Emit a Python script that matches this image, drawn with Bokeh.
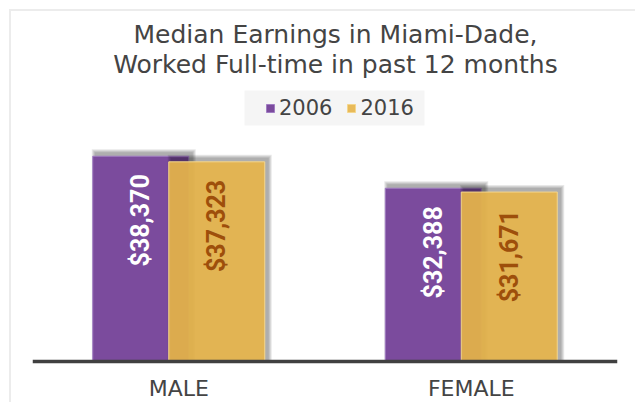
import math
from bokeh.plotting import figure
from bokeh.models import (ColumnDataSource, FactorRange, Range1d, Label, Span,
                          Legend, LegendItem, BoxAnnotation, InlineStyleSheet)
from bokeh.transform import dodge
from bokeh.core.properties import value
from bokeh.embed import file_html
from bokeh.resources import INLINE

# ---------------- data ----------------
categories = ["MALE", "FEMALE"]
years = ["2006", "2016"]
earnings_2006 = [38370, 32388]
earnings_2016 = [37323, 31671]
title_lines = ["Median Earnings in Miami-Dade,", "Worked Full-time in past 12 months"]

# ---------------- layout (page pixels) ----------------
ORIGIN = 11            # canvas top-left on page (9px margin + 2px border)
W, H = 626, 393
FRAME_L, FRAME_R = 32, 617
FRAME_B = ORIGIN + H
ZERO_Y = 361           # page y of value 0
PX_PER_USD = 0.00535
UNIT = (FRAME_R - FRAME_L) / len(categories)
BAR_W = 96 / UNIT
OFF = 38 / UNIT

def xd(px):
    return (px - FRAME_L) / UNIT

def yd(py):
    return (ZERO_Y - py) / PX_PER_USD

TXT = "#444444"
PURPLE = "#7B4B9D"
PURPLE_EDGE = "#A07CC2"
YELLOW = "#E6B54C"
YELLOW_EDGE = "#F4D68C"
FONT = "DejaVu Sans"

def money(v):
    return "${:,}".format(v)

src = ColumnDataSource(dict(
    cat=categories,
    v2006=earnings_2006,
    v2016=earnings_2016,
    l2006=[money(v) for v in earnings_2006],
    l2016=[money(v) for v in earnings_2016],
))

p = figure(width=W, height=H,
           x_range=FactorRange(factors=categories, range_padding=0),
           y_range=Range1d(yd(FRAME_B), yd(ORIGIN)),
           output_backend="svg", toolbar_location=None,
           x_axis_location=None, y_axis_location=None,
           min_border_left=FRAME_L - ORIGIN, min_border_right=ORIGIN + W - FRAME_R,
           min_border_top=0, min_border_bottom=0)
p.title.visible = False
p.grid.visible = False
p.outline_line_color = None
p.background_fill_color = "white"
p.border_fill_color = "white"
p.stylesheets = [InlineStyleSheet(css=(
    ":host { margin-left: 9px; margin-top: 9px; "
    "border-left: 2px solid #ececec; border-top: 2px solid #ececec; }"))]

# ---------------- shadows + bars ----------------
SH_DX, SH_DY = 3, 3
renderers = {}
for key, off, fill, edge, alpha in [("v2006", -OFF, PURPLE, PURPLE_EDGE, 1.0),
                                    ("v2016", OFF, YELLOW, YELLOW_EDGE, 0.93)]:
    for e in [1, 2, 3, 4]:
        sh = ColumnDataSource(dict(cat=categories,
                                   top=[v + (SH_DY + e) / PX_PER_USD for v in src.data[key]]))
        p.vbar(x=dodge("cat", off + SH_DX / UNIT, range=p.x_range), top="top", bottom=0,
               width=BAR_W + 2 * e / UNIT, source=sh,
               fill_color="black", fill_alpha=0.09, line_color=None)
    renderers[key] = p.vbar(x=dodge("cat", off, range=p.x_range), top=key, bottom=0,
                            width=BAR_W, source=src, fill_color=fill, fill_alpha=alpha,
                            line_color=edge, line_width=1)

# bar value labels (rotated, inside end)
p.text(x=dodge("cat", -OFF, range=p.x_range), y="v2006", text="l2006", source=src,
       angle=math.pi / 2, text_align="right", text_baseline="middle", y_offset=18,
       text_font=value("Roboto"), text_font_style="bold", text_font_size="25px",
       text_color="white")
p.text(x=dodge("cat", OFF, range=p.x_range), y="v2016", text="l2016", source=src,
       angle=math.pi / 2, text_align="right", text_baseline="middle", y_offset=18,
       text_font=value("Roboto"), text_font_style="bold", text_font_size="25px",
       text_color="#9E4F0B")

# baseline
p.add_layout(Span(location=0, dimension="width", line_color="#404040", line_width=3.5))

# category labels
p.text(x="cat", y=yd(388), text="cat", source=src, text_align="center",
       text_baseline="alphabetic", text_font=value(FONT), text_font_size="22px",
       text_color=TXT)

# title
for i, line in enumerate(title_lines):
    p.add_layout(Label(x=xd(335), y=yd(34 + 30 * i), text=line, text_align="center",
                       text_baseline="alphabetic", text_font=FONT,
                       text_font_size="25px", text_color=TXT))

# legend
p.add_layout(BoxAnnotation(left=xd(244), right=xd(424), top=yd(90), bottom=yd(125),
                           fill_color="#f5f5f5", fill_alpha=1, line_color=None))
legend = Legend(items=[LegendItem(label=years[0], renderers=[renderers["v2006"]]),
                       LegendItem(label=years[1], renderers=[renderers["v2016"]])],
                orientation="horizontal", location=(265 - FRAME_L, FRAME_B - 120),
                padding=0, margin=0, spacing=14, glyph_width=10, glyph_height=10,
                label_standoff=4, label_text_font=FONT, label_text_font_size="21px",
                label_text_color=TXT, background_fill_alpha=0, border_line_color=None)
p.add_layout(legend)

open("out.html", "w").write(file_html(p, INLINE))
